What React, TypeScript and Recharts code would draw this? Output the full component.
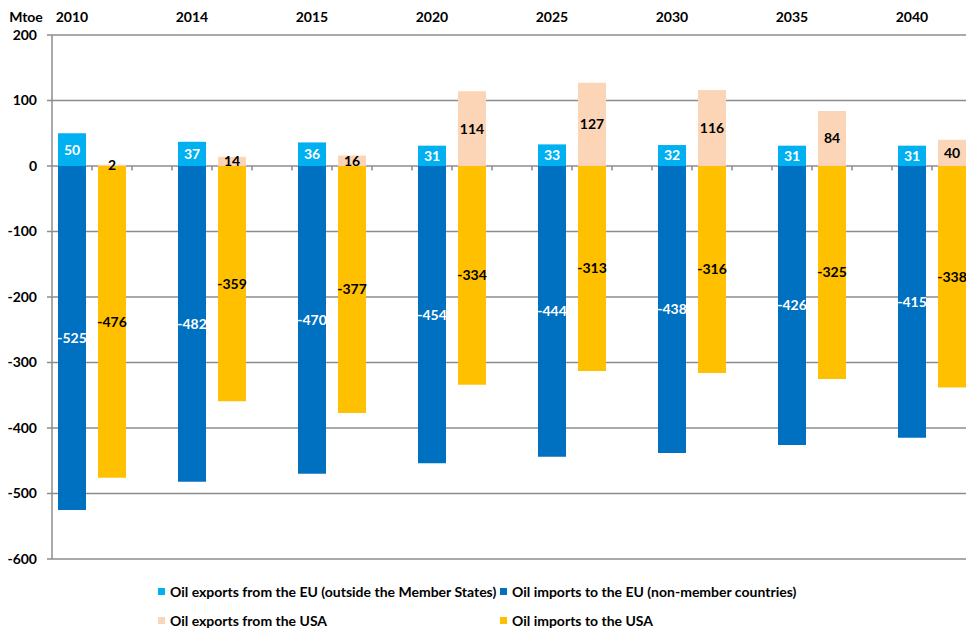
import {
  Bar,
  BarChart,
  CartesianGrid,
  LabelList,
  Legend,
  ReferenceLine,
  XAxis,
  YAxis,
} from "recharts";

const years = ["2010", "2014", "2015", "2020", "2025", "2030", "2035", "2040"];
const euExports = [50, 37, 36, 31, 33, 32, 31, 31];
const euImports = [-525, -482, -470, -454, -444, -438, -426, -415];
const usExports = [2, 14, 16, 114, 127, 116, 84, 40];
const usImports = [-476, -359, -377, -334, -313, -316, -325, -338];
const yTicks = [200, 100, 0, -100, -200, -300, -400, -500, -600];

const series = [
  { key: "euExp", name: "Oil exports from the EU (outside the Member States)", color: "#00B0F0", text: "#ffffff" },
  { key: "euImp", name: "Oil imports to the EU (non-member countries)", color: "#0070C0", text: "#ffffff" },
  { key: "usExp", name: "Oil exports from the USA", color: "#FBD5B5", text: "#000000" },
  { key: "usImp", name: "Oil imports to the USA", color: "#FFC000", text: "#000000" },
];

// three slots per year: EU bar, USA bar, empty spacer
const rows = years.flatMap((year, i) => [
  { slot: year, euExp: euExports[i], euImp: euImports[i] },
  { slot: `${year} USA`, usExp: usExports[i], usImp: usImports[i] },
  { slot: `${year} gap` },
]);

const FONT = "Lato, 'Open Sans', sans-serif";
const GRID = "#8c8c8c";

function LegendGrid() {
  return (
    <div
      style={{
        display: "grid",
        gridTemplateColumns: "342px auto",
        fontFamily: FONT,
        fontWeight: 700,
        fontSize: 14,
        lineHeight: "29px",
        color: "#000",
      }}
    >
      {series.map((s) => (
        <div key={s.key} style={{ display: "flex", alignItems: "center", whiteSpace: "nowrap" }}>
          <span
            style={{
              display: "inline-block",
              width: 7,
              height: 7,
              background: s.color,
              marginRight: 5,
            }}
          />
          {s.name}
        </div>
      ))}
    </div>
  );
}

export default function App() {
  return (
    <div
      style={{
        position: "absolute",
        left: 0,
        top: 0,
        width: 966,
        height: 628,
        overflow: "hidden",
        background: "#fff",
      }}
    >
      <BarChart
        width={1012}
        height={628}
        data={rows}
        stackOffset="sign"
        barCategoryGap={6}
        margin={{ top: 0, right: 0, bottom: 69, left: 0 }}
      >
        <CartesianGrid vertical={false} stroke={GRID} strokeWidth={1.5} />
        <XAxis
          dataKey="slot"
          orientation="top"
          height={35}
          interval={0}
          axisLine={false}
          tickLine={false}
          tickSize={6}
          tickMargin={7}
          tickFormatter={(v: string) => (years.includes(v) ? v : "")}
          tick={{ fill: "#000", fontSize: 14, fontWeight: 700, fontFamily: FONT }}
        />
        <YAxis
          width={52}
          domain={[-600, 200]}
          ticks={yTicks}
          interval={0}
          stroke={GRID}
          strokeWidth={1.5}
          tickSize={5}
          tickMargin={10}
          tick={{ fill: "#000", fontSize: 14, fontWeight: 700, fontFamily: FONT }}
          label={{
            value: "Mtoe",
            position: "top",
            offset: 13,
            fill: "#000",
            fontSize: 14,
            fontWeight: 700,
            fontFamily: FONT,
          }}
        />
        {series.map((s) => (
          <Bar
            key={s.key}
            dataKey={s.key}
            name={s.name}
            stackId="flow"
            fill={s.color}
            isAnimationActive={false}
          >
            <LabelList
              dataKey={s.key}
              position="center"
              fill={s.text}
              fontSize={14}
              fontWeight={700}
              fontFamily={FONT}
              formatter={(v: unknown) => (typeof v === "number" && !Number.isNaN(v) ? v : "")}
            />
          </Bar>
        ))}
        {rows.slice(1).map((r) => (
          <ReferenceLine
            key={r.slot}
            segment={[
              { x: r.slot, y: 0 },
              { x: r.slot, y: -7 },
            ]}
            position="start"
            stroke={GRID}
            strokeWidth={1.5}
          />
        ))}
        <Legend
          layout="horizontal"
          verticalAlign="middle"
          align="center"
          wrapperStyle={{ top: 577, left: 158, width: 760 }}
          content={() => <LegendGrid />}
        />
      </BarChart>
    </div>
  );
}
